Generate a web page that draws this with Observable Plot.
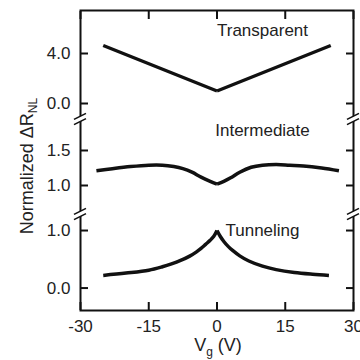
<!DOCTYPE html>
<html><head><meta charset="utf-8">
<script src="https://cdn.jsdelivr.net/npm/d3@7"></script>
<script src="https://cdn.jsdelivr.net/npm/@observablehq/plot@0.6"></script>
<style>body{margin:0;background:#fff}</style>
</head><body><div id="chart"></div>
<script>
// ---- data ----
const xTicks = [-30, -15, 0, 15, 30];
const panelNames = ["Transparent", "Intermediate", "Tunneling"];

const transparentV = [-25, 0, 25];
const transparentR = [4.64, 1.0, 4.64];

const intermediateV = [-26.5, -23, -19, -15, -12, -9.5, -7.5, -5.5, -3.5, -1.5, 0, 1.5, 3, 5, 7.5, 10, 13, 16, 19, 23, 26.8];
const intermediateR = [1.21, 1.24, 1.27, 1.29, 1.29, 1.27, 1.24, 1.19, 1.12, 1.06, 1.02, 1.06, 1.11, 1.19, 1.26, 1.29, 1.30, 1.29, 1.28, 1.25, 1.21];

const tunnelingV = [-25, -20, -15, -12, -10, -8, -6, -4.5, -3.5, -2.5, -1.5, -0.7, 0, 0.7, 1.5, 2.5, 3.5, 5, 7, 10, 13, 17, 21, 24.6];
const tunnelingR = [0.22, 0.26, 0.31, 0.37, 0.42, 0.48, 0.555, 0.63, 0.69, 0.76, 0.83, 0.90, 1.0, 0.90, 0.81, 0.72, 0.65, 0.56, 0.47, 0.38, 0.32, 0.27, 0.24, 0.22];

const transparentTicks = [0.0, 4.0];
const intermediateTicks = [1.0, 1.5];
const tunnelingTicks = [0.0, 1.0];

const labelX = [10, 10, 10];
const labelR = [5.8, 1.78, 1.0];

// ---- broken-axis layout: value domain of each panel and its share of the stacked axis ----
const layout = {
  Transparent:  {domain: [-1.2, 7.44],  band: [192, 300]},
  Intermediate: {domain: [0.6, 1.957],  band: [97, 192]},
  Tunneling:    {domain: [-0.39, 1.296], band: [0, 97]}
};
function toU(name, v) {
  const {domain: [d0, d1], band: [b0, b1]} = layout[name];
  return b0 + (v - d0) / (d1 - d0) * (b1 - b0);
}

const series = {
  Transparent: [transparentV, transparentR, transparentTicks],
  Intermediate: [intermediateV, intermediateR, intermediateTicks],
  Tunneling: [tunnelingV, tunnelingR, tunnelingTicks]
};

const rows = [];
const tickU = [];
const tickLabel = new Map();
for (const name of panelNames) {
  const [V, R, T] = series[name];
  V.forEach((v, i) => {
    const u = toU(name, R[i]);
    if (v <= 0) rows.push({seg: name + "-L", V: v, u});
    if (v >= 0) rows.push({seg: name + "-R", V: v, u});
  });
  T.forEach(t => { const u = toU(name, t); tickU.push(u); tickLabel.set(u, t.toFixed(1)); });
}
const labels = panelNames.map((name, i) => ({text: name, x: labelX[i], u: toU(name, labelR[i])}));
const breaks = [];
for (const name of ["Intermediate", "Tunneling"]) {
  const top = layout[name].band[1];
  breaks.push({x: -30, u: top}, {x: 30, u: top});
}

const font = "Liberation Sans, Arial, Helvetica, sans-serif";
const chart = Plot.plot({
  width: 360,
  height: 360,
  marginLeft: 80,
  marginRight: 7,
  marginTop: 10,
  marginBottom: 50,
  style: {fontFamily: font, fontSize: "17px", color: "#111", background: "#fff"},
  x: {domain: [-30, 30]},
  y: {domain: [0, 300]},
  marks: [
    Plot.frame({strokeWidth: 2}),
    Plot.axisX(xTicks, {anchor: "bottom", tickSize: -8, tickPadding: 17, strokeWidth: 2, tickFormat: d => String(d), label: null, fontSize: 17, fill: "#222"}),
    Plot.axisX(xTicks, {anchor: "top", tickSize: -8, strokeWidth: 2, tickFormat: () => "", label: null}),
    Plot.axisY(tickU, {anchor: "left", tickSize: -8, tickPadding: 18, strokeWidth: 2, tickFormat: d => tickLabel.get(d), label: null, fontSize: 17, fill: "#222"}),
    Plot.axisY(tickU, {anchor: "right", tickSize: -8, strokeWidth: 2, tickFormat: () => "", label: null}),
    Plot.line(rows, {x: "V", y: "u", z: "seg", curve: "catmull-rom", stroke: "#111", strokeWidth: 3.5, strokeLinecap: "butt", strokeLinejoin: "round"}),
    Plot.text(labels, {x: "x", y: "u", text: "text", fontSize: 17, fill: "#222"})
  ]
});
document.getElementById("chart").appendChild(chart);

const svg = d3.select(chart);
const sx = chart.scale("x"), sy = chart.scale("y");

// axis-break marks: white gap between two slanted strokes
const bg = svg.append("g");
for (const b of breaks) {
  const px = sx.apply(b.x), py = sy.apply(b.u) + 1;
  const w = 6, s = 3, g = 2.6;
  bg.append("path")
    .attr("d", `M${px - w},${py + s - g}L${px + w},${py - s - g}L${px + w},${py - s + g}L${px - w},${py + s + g}Z`)
    .attr("fill", "#fff");
  for (const o of [-g, g]) {
    bg.append("line")
      .attr("x1", px - w).attr("y1", py + s + o)
      .attr("x2", px + w).attr("y2", py - s + o)
      .attr("stroke", "#111").attr("stroke-width", 1.6);
  }
}

// axis titles with subscripts
const yl = svg.append("text")
  .attr("transform", "translate(33,166) rotate(-90)")
  .attr("text-anchor", "middle")
  .attr("font-family", font).attr("font-size", 18).attr("fill", "#222");
yl.append("tspan").text("Normalized \u0394R");
yl.append("tspan").attr("dy", 4).attr("font-size", 12).text("NL");

const xl = svg.append("text")
  .attr("x", 218).attr("y", 351)
  .attr("text-anchor", "middle")
  .attr("font-family", font).attr("font-size", 18).attr("fill", "#222");
xl.append("tspan").text("V");
xl.append("tspan").attr("dy", 5).attr("font-size", 12).text("g");
xl.append("tspan").attr("dy", -5).text(" (V)");
</script>
</body></html>
